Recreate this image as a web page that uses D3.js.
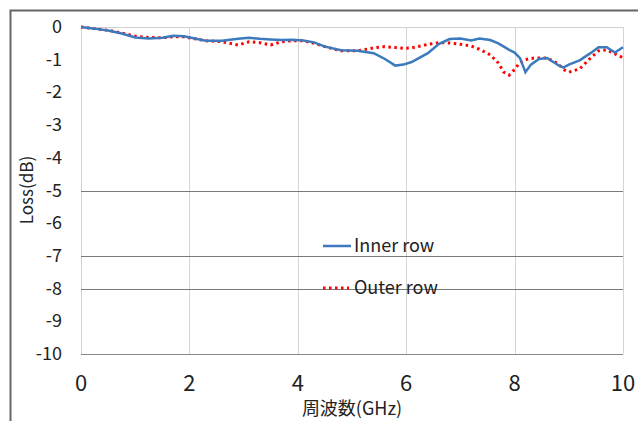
<!DOCTYPE html>
<html>
<head>
<script src="https://d3js.org/d3.v7.min.js"></script>
<style>
  body { margin: 0; background: #fff; }
  text { font-family: "Noto Sans CJK JP", "Noto Sans", sans-serif; fill: #222; }
</style>
</head>
<body>
<script>
var W = 638, H = 421
var freq = [0, 0.25, 0.5, 0.75, 1.0, 1.25, 1.5, 1.7, 1.9, 2.1, 2.3, 2.6, 2.9, 3.1, 3.3, 3.5, 3.7, 3.9,
  4.1, 4.3, 4.5, 4.8, 5.1, 5.4, 5.6, 5.8, 5.95, 6.1, 6.4, 6.6, 6.8, 7.0, 7.2, 7.35, 7.55, 7.7, 7.8,
  7.9, 8.0, 8.1, 8.2, 8.3, 8.45, 8.6, 8.8, 8.9, 9.0, 9.2, 9.4, 9.55, 9.7, 9.85, 10]
var inner = [0, -0.05, -0.11, -0.2, -0.32, -0.35, -0.33, -0.27, -0.28, -0.35, -0.42, -0.42, -0.36, -0.33,
  -0.36, -0.38, -0.4, -0.39, -0.41, -0.47, -0.6, -0.71, -0.73, -0.8, -0.97, -1.18, -1.15, -1.07, -0.8,
  -0.52, -0.37, -0.35, -0.41, -0.35, -0.4, -0.5, -0.6, -0.7, -0.78, -0.95, -1.38, -1.15, -0.98, -0.95,
  -1.16, -1.24, -1.15, -1.02, -0.8, -0.62, -0.62, -0.78, -0.62]
var outer = [0, -0.05, -0.1, -0.18, -0.28, -0.32, -0.33, -0.3, -0.3, -0.36, -0.42, -0.45, -0.55, -0.45,
  -0.48, -0.55, -0.45, -0.42, -0.42, -0.5, -0.6, -0.73, -0.73, -0.64, -0.6, -0.63, -0.65, -0.64, -0.53,
  -0.48, -0.49, -0.53, -0.58, -0.68, -0.85, -1.1, -1.38, -1.47, -1.3, -1.08, -1.0, -0.96, -0.95, -0.95,
  -1.12, -1.3, -1.38, -1.28, -0.95, -0.73, -0.7, -0.82, -0.94]
var xTicks = [0, 2, 4, 6, 8, 10]
var yTicks = [0, -1, -2, -3, -4, -5, -6, -7, -8, -9, -10]
var darkGrid = [-5, -7, -8]
var seriesNames = ['Inner row', 'Outer row']

var pL = 81, pR = 623, pT = 27, pB = 354

var x = d3.scaleLinear().domain([0, 10]).range([pL, pR])
var y = d3.scaleLinear().domain([-10, 0]).range([pB, pT])

var svg = d3.select('body').append('svg').attr('width', W).attr('height', H)

// outer frame (top and left only)
svg.append('path')
  .attr('d', 'M10.5,421 V10.5 H638')
  .attr('fill', 'none').attr('stroke', '#666').attr('stroke-width', 2)

// vertical grid
svg.append('g').selectAll('line').data(xTicks).join('line')
  .attr('x1', d => Math.round(x(d)) + 0.5).attr('x2', d => Math.round(x(d)) + 0.5)
  .attr('y1', pT).attr('y2', pB)
  .attr('stroke', '#d4d4d4')

// top line
svg.append('line')
  .attr('x1', pL).attr('x2', pR).attr('y1', y(0) + 0.5).attr('y2', y(0) + 0.5)
  .attr('stroke', '#d0d0d0')

// dark horizontal lines
svg.append('g').selectAll('line').data(darkGrid).join('line')
  .attr('x1', pL).attr('x2', pR)
  .attr('y1', d => Math.round(y(d)) + 0.5).attr('y2', d => Math.round(y(d)) + 0.5)
  .attr('stroke', '#7a7a7a')

// bottom axis
svg.append('line')
  .attr('x1', pL).attr('x2', pR).attr('y1', y(-10) + 0.5).attr('y2', y(-10) + 0.5)
  .attr('stroke', '#888')

// y tick labels
svg.append('g').selectAll('text').data(yTicks).join('text')
  .attr('x', 62).attr('y', d => y(d) + 6)
  .attr('text-anchor', 'end').attr('font-size', 18)
  .text(d => d)

// x tick labels
svg.append('g').selectAll('text').data(xTicks).join('text')
  .attr('x', d => x(d)).attr('y', 391)
  .attr('text-anchor', 'middle').attr('font-size', 22)
  .text(d => d)

// axis titles
svg.append('text')
  .attr('transform', 'translate(33,' + 190 + ') rotate(-90)')
  .attr('text-anchor', 'middle').attr('font-size', 17)
  .text('Loss(dB)')
svg.append('text')
  .attr('x', 352).attr('y', 415)
  .attr('text-anchor', 'middle').attr('font-size', 18)
  .text('周波数(GHz)')

var line = d3.line().x(d => x(d[0])).y(d => y(d[1]))

svg.append('path')
  .attr('d', line(d3.zip(freq, outer)))
  .attr('fill', 'none').attr('stroke', '#ff0000').attr('stroke-width', 3)
  .attr('stroke-dasharray', '2.5,3.5')

svg.append('path')
  .attr('d', line(d3.zip(freq, inner)))
  .attr('fill', 'none').attr('stroke', '#3a7abd').attr('stroke-width', 2.5)

// legend
var leg = svg.append('g')
leg.append('line').attr('x1', 323).attr('x2', 351).attr('y1', 246).attr('y2', 246)
  .attr('stroke', '#3a7abd').attr('stroke-width', 2.5)
leg.append('line').attr('x1', 323).attr('x2', 349).attr('y1', 288).attr('y2', 288)
  .attr('stroke', '#ff0000').attr('stroke-width', 3).attr('stroke-dasharray', '2.5,3.5')
leg.selectAll('text').data(seriesNames).join('text')
  .attr('x', 354).attr('y', (d, i) => i === 0 ? 252 : 294)
  .attr('font-size', 18)
  .text(d => d)
</script>
</body>
</html>
